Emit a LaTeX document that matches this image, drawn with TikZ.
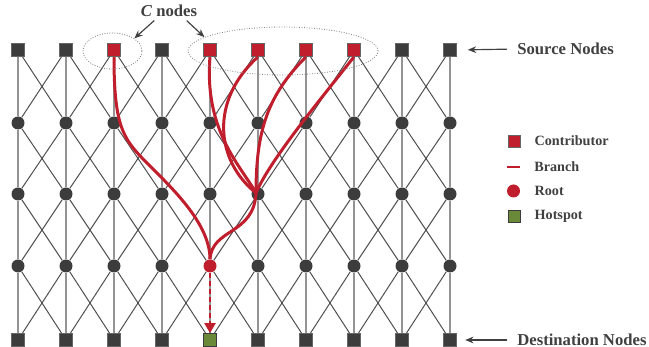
\documentclass[tikz,border=0pt]{standalone}
\usepackage{fontspec}
\setmainfont{Liberation Serif}
\usepackage{tikz}
\usetikzlibrary{positioning,arrows.meta,shapes.geometric}

\definecolor{nodegray}{RGB}{60,60,60}
\definecolor{branchred}{RGB}{192,30,45}
\definecolor{hotgreen}{RGB}{106,138,58}
\definecolor{textgray}{RGB}{64,64,64}

\tikzset{
  src/.style={rectangle,fill=nodegray,draw=gray!80!black,line width=0.4pt,minimum size=7.8pt,inner sep=0pt},
  contrib/.style={src,fill=branchred},
  hot/.style={src,fill=hotgreen,draw=nodegray},
  mid/.style={circle,fill=nodegray,minimum size=7.8pt,inner sep=0pt},
  root/.style={mid,fill=branchred},
  vline/.style={draw=gray!85,line width=1.2pt},
  dline/.style={draw=nodegray!90,line width=0.6pt},
  branch/.style={draw=branchred,line width=1.8pt},
  ring/.style={ellipse,draw=gray,densely dotted,line width=0.5pt,inner sep=0pt},
  pointer/.style={draw=textgray,line width=0.7pt,->},
  lbl/.style={text=textgray,font=\fontsize{10}{12}\selectfont\bfseries,inner sep=0pt},
  legtxt/.style={text=textgray,font=\fontsize{8.5}{10}\selectfont\bfseries,inner sep=0pt,anchor=west},
}

\begin{document}
\begin{tikzpicture}[x=0.6pt,y=-0.6pt,>={Stealth[length=5pt,width=4pt]}]
    \useasboundingbox (0,0) rectangle (649,347);

    % grid nodes
    \foreach \c in {0,1,3,8,9} \node[src] (s\c) at ({18+48*\c},50) {};
    \foreach \c in {2,4,5,6,7} \node[contrib] (s\c) at ({18+48*\c},50) {};
    \foreach \r/\yy in {1/123,2/194}
        \foreach \c in {0,...,9} \node[mid] (m\r-\c) at ({18+48*\c},\yy) {};
    \foreach \c in {0,1,2,3,5,6,7,8,9} \node[mid] (m3-\c) at ({18+48*\c},266) {};
    \node[root] (m3-4) at (210,266) {};
    \foreach \c in {0,1,2,3,5,6,7,8,9} \node[src] (d\c) at ({18+48*\c},340) {};
    \node[hot] (d4) at (210,340) {};

    % links
    \foreach \a/\b in {s/m1-,m1-/m2-,m2-/m3-,m3-/d} {
        \foreach \c in {0,...,9} \draw[vline] (\a\c) -- (\b\c);
        \foreach \c [evaluate=\c as \n using int(\c+1)] in {0,...,8} {
            \draw[dline] (\a\c) -- (\b\n);
            \draw[dline] (\a\n) -- (\b\c);
        }
    }

    % branches
    \coordinate (mrg) at (256,193);
    \draw[branch] (s2.south) .. controls (114,130) and (124,140) .. (150,166)
        .. controls (175,191) and (210,225) .. (m3-4.north);
    \draw[branch] (s4.south) .. controls (204,130) and (240,165) .. (mrg);
    \draw[branch] (s5.south) .. controls (210,100) and (215,160) .. (mrg);
    \draw[branch] (s6.south) .. controls (268,95) and (256,130) .. (mrg);
    \draw[branch] (s7.south) .. controls (320,100) and (270,160) .. (mrg);
    \draw[branch] (mrg) .. controls (254,235) and (212,228) .. (m3-4.north);
    \draw[draw=branchred,line width=1.6pt,dash pattern=on 3pt off 1.8pt,
          -{Triangle[length=6pt,width=6.5pt]}] (m3-4) -- (d4);

    % contributor groups
    \node[ring,minimum width=35.4pt,minimum height=21.6pt] (ring1) at (112.5,51) {};
    \node[ring,minimum width=114pt,minimum height=28.8pt] (ring2) at (283,51) {};
    \node[lbl] (cn) at (169,11) {\textit{C} nodes};
    \draw[pointer,shorten <=3pt] ([xshift=-6.6pt]cn.south) -- (ring1.30);
    \draw[pointer,shorten <=3pt] ([xshift=8.4pt]cn.south) -- (ring2.170);

    % side labels
    \node[lbl,anchor=west] (srclbl) at (517,49) {Source Nodes};
    \draw[pointer,shorten <=6pt,shorten >=6.6pt] (srclbl.west) -- (s9.east);
    \node[lbl,anchor=west] (dstlbl) at (517,340) {Destination Nodes};
    \draw[pointer,shorten <=6pt,shorten >=5pt] (dstlbl.west) -- (d9.east);

    % legend
    \node[contrib,minimum size=7.2pt] (lg1) at (514,141) {};
    \node[legtxt,right=8.4pt of lg1] (lt1) {Contributor};
    \coordinate (lg2a) at (507,167);
    \coordinate (lg2b) at (520,167);
    \draw[branch,line width=1.3pt] (lg2a) -- (lg2b);
    \node[legtxt,right=8.4pt of lg2b] (lt2) {Branch};
    \node[root] (lg3) at (513.5,191) {};
    \node[legtxt,right=8.4pt of lg3] (lt3) {Root};
    \node[hot,minimum size=7.2pt] (lg4) at (514,216) {};
    \node[legtxt,right=8.4pt of lg4] (lt4) {Hotspot};
\end{tikzpicture}
\end{document}
